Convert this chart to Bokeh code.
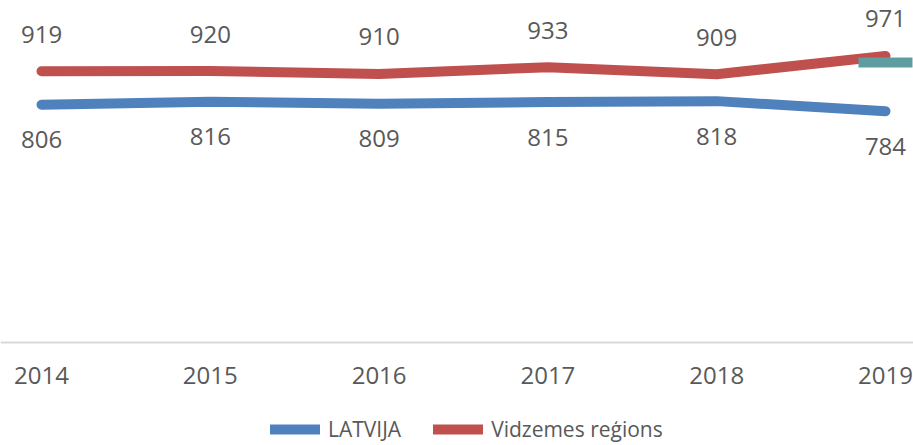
from bokeh.plotting import figure
from bokeh.models import Range1d, FixedTicker, Legend, LegendItem
from bokeh.core.properties import value
from bokeh.embed import file_html
from bokeh.resources import INLINE

years = [2014, 2015, 2016, 2017, 2018, 2019]
latvija = [806, 816, 809, 815, 818, 784]
vidzeme = [919, 920, 910, 933, 909, 971]
teal_year = [2019]
teal_val = [949]

FONT = "Open Sans"
TXT = "#595959"
BLUE = "#4F81BD"
RED = "#C0504D"
TEAL = "#5F9EA0"

p = figure(width=913, height=445, output_backend="svg", toolbar_location=None,
           x_range=Range1d(2013.757, 2019.166), y_range=Range1d(-349, 1159),
           y_axis_type=None, min_border_left=0, min_border_right=0,
           min_border_top=0, min_border_bottom=0)
p.outline_line_color = None
p.xgrid.visible = False
p.ygrid.visible = False

rb = p.line(years, latvija, line_color=BLUE, line_width=10, line_cap="round", line_join="round")
rr = p.line(years, vidzeme, line_color=RED, line_width=10, line_cap="round", line_join="round")
p.rect(teal_year, teal_val, width=54, height=10, width_units="screen", height_units="screen",
       fill_color=TEAL, line_color=None)

p.text(years, vidzeme, text=[str(v) for v in vidzeme], text_font=value(FONT),
       text_font_size="24px", text_color=TXT, text_align="center", text_baseline="middle",
       y_offset=-37)
p.text(years, latvija, text=[str(v) for v in latvija], text_font=value(FONT),
       text_font_size="24px", text_color=TXT, text_align="center", text_baseline="middle",
       y_offset=35)

ax = p.xaxis[0]
ax.fixed_location = 0
ax.ticker = FixedTicker(ticks=years)
ax.axis_line_color = "#D9D9D9"
ax.axis_line_width = 2
ax.major_tick_line_color = None
ax.minor_tick_line_color = None
ax.major_tick_out = 0
ax.major_tick_in = 0
ax.major_label_standoff = 24
ax.major_label_text_font = FONT
ax.major_label_text_font_size = "24px"
ax.major_label_text_color = TXT

legend = Legend(items=[LegendItem(label="LATVIJA", renderers=[rb]),
                       LegendItem(label="Vidzemes reģions", renderers=[rr])],
                orientation="horizontal", location=(270, 2))
legend.padding = 0
legend.margin = 0
legend.spacing = 32
legend.glyph_width = 50
legend.glyph_height = 20
legend.label_height = 20
legend.label_standoff = 8
legend.label_text_font = FONT
legend.label_text_font_size = "21px"
legend.label_text_color = TXT
legend.border_line_color = None
legend.background_fill_alpha = 0
p.add_layout(legend, "center")

open("out.html", "w").write(file_html(p, INLINE))
